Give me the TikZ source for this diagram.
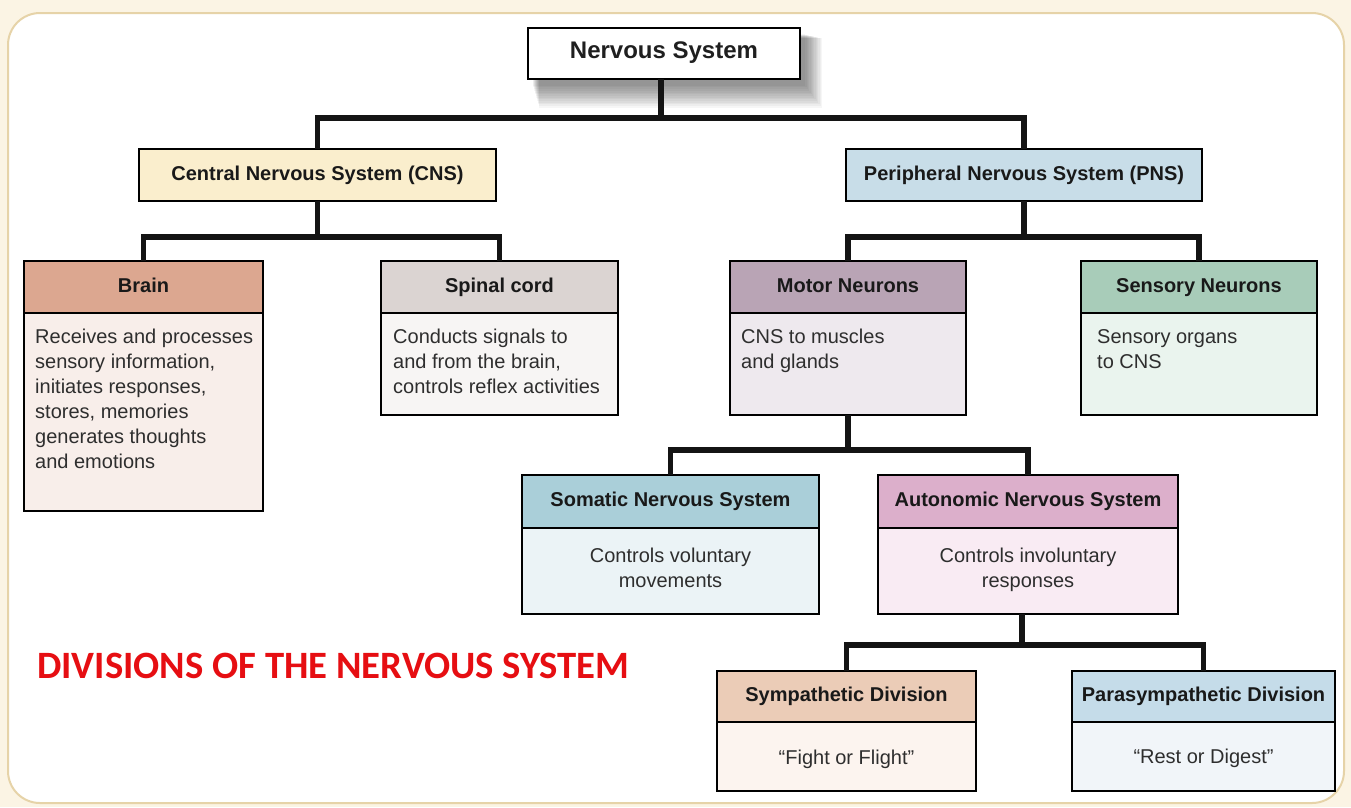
\documentclass[tikz,border=0pt]{standalone}
\usepackage{fontspec}
\setmainfont{Liberation Sans}
\newfontfamily\titlefont{Carlito}
\definecolor{bgc}{HTML}{FBF4E4}
\definecolor{framec}{HTML}{E6D3A8}
\definecolor{cnsc}{HTML}{FAEECD}
\definecolor{pnsc}{HTML}{C8DDE8}
\definecolor{brainH}{HTML}{DCA790}
\definecolor{brainB}{HTML}{F8EEEA}
\definecolor{spinalH}{HTML}{DBD4D2}
\definecolor{spinalB}{HTML}{F7F5F4}
\definecolor{motorH}{HTML}{B9A4B5}
\definecolor{motorB}{HTML}{EEE9EE}
\definecolor{sensH}{HTML}{A8CCB9}
\definecolor{sensB}{HTML}{EAF4EE}
\definecolor{somH}{HTML}{AACFD9}
\definecolor{somB}{HTML}{EBF3F6}
\definecolor{autH}{HTML}{DCAFCB}
\definecolor{autB}{HTML}{F9EBF3}
\definecolor{symH}{HTML}{EBCCB7}
\definecolor{symB}{HTML}{FCF4EF}
\definecolor{parH}{HTML}{C5DCE9}
\definecolor{parB}{HTML}{F1F5F9}
\definecolor{titlered}{HTML}{E60E12}
\tikzset{
  hdr/.style={draw=black, line width=2.5pt, rectangle, inner sep=0pt, outer sep=0pt,
    text height=14.5pt, text depth=4pt,
    font=\bfseries\fontsize{20}{24}\selectfont, text=black!90},
  bdy/.style={draw=black, line width=2.5pt, rectangle, inner sep=0pt, outer sep=0pt},
  txt/.style={inner sep=0pt, font=\fontsize{20}{25}\selectfont, text=black!82},
  conn/.style={line width=5.5pt, draw=black!92}
}
\newcommand\dbox[9]{%
  \node[hdr, fill=#7, minimum width=#4pt, minimum height=#5pt, anchor=north west] (#1h) at (#2,#3) {#9};
  \node[bdy, fill=#8, minimum width=#4pt, minimum height=#6pt, anchor=north west] (#1) at (#1h.south west) {};
}
\begin{document}
\begin{tikzpicture}[x=1pt,y=-1pt]
\useasboundingbox (0,0) rectangle (1351,807);
\fill[bgc] (0,0) rectangle (1351,807);
\draw[draw=framec, line width=2pt, fill=white, rounded corners=32pt] (8,13) rectangle (1344,803);

% shadow of the top box
\foreach \i in {1,...,14}
  \fill[black, opacity=0.035] (532+\i*0.5, 34+\i*0.3) rectangle (804+\i*1.3, 84+\i*1.7);

\node[draw=black, line width=2.5pt, fill=white, outer sep=0pt, minimum width=272pt, minimum height=51pt,
  anchor=north west, font=\bfseries\fontsize{24}{28}\selectfont, text=black!88,
  text height=17pt, text depth=7pt] (ns) at (528,28) {Nervous System};

\node[hdr, fill=cnsc, minimum width=357pt, minimum height=52pt, anchor=north west] (cns) at (139,149) {Central Nervous System (CNS)};
\node[hdr, fill=pnsc, minimum width=356pt, minimum height=52pt, anchor=north west] (pns) at (846,149) {Peripheral Nervous System (PNS)};

\dbox{brain}{24}{261}{239}{52}{198}{brainH}{brainB}{Brain}
\dbox{spinal}{381}{261}{237}{52}{102}{spinalH}{spinalB}{Spinal cord}
\dbox{motor}{730}{261}{236}{52}{102}{motorH}{motorB}{Motor Neurons}
\dbox{sens}{1081}{261}{236}{52}{102}{sensH}{sensB}{Sensory Neurons}
\dbox{som}{522}{475}{297}{53}{86}{somH}{somB}{Somatic Nervous System}
\dbox{aut}{878}{475}{300}{53}{86}{autH}{autB}{Autonomic Nervous System}
\dbox{sym}{717}{671}{259}{51}{69}{symH}{symB}{Sympathetic Division}
\dbox{par}{1072}{671}{263}{51}{69}{parH}{parB}{Parasympathetic Division}

% body texts
\node[txt, align=left, anchor=north west] (brainT) at ([xshift=11pt,yshift=-16pt]brain.north west)
  {Receives and processes\\sensory information,\\initiates responses,\\stores, memories\\generates thoughts\\and emotions};
\node[txt, align=left, anchor=north west] (spinalT) at ([xshift=12pt,yshift=-16pt]spinal.north west)
  {Conducts signals to\\and from the brain,\\controls reflex activities};
\node[txt, align=left, anchor=north west] (motorT) at ([xshift=11pt,yshift=-16pt]motor.north west)
  {CNS to muscles\\and glands};
\node[txt, align=left, anchor=north west] (sensT) at ([xshift=16pt,yshift=-16pt]sens.north west)
  {Sensory organs\\to CNS};
\node[txt, align=center, anchor=north] (somT) at ([yshift=-20pt]som.north)
  {Controls voluntary\\movements};
\node[txt, align=center, anchor=north] (autT) at ([yshift=-20pt]aut.north)
  {Controls involuntary\\responses};
\node[txt] (symT) at ([yshift=-3pt]sym.center) {“Fight or Flight”};
\node[txt] (parT) at ([yshift=-2pt]par.center) {“Rest or Digest”};

% connectors
\coordinate (j1) at (661,118);
\coordinate (j2) at (318,237);
\coordinate (j3) at (1022,237);
\coordinate (j4) at (848,450);
\coordinate (j5) at (1022,645);
\draw[conn] (ns.south -| j1) -- (j1);
\draw[conn] (cns.north) |- (j1) -| (pns.north);
\draw[conn] (cns.south) -- (cns.south |- j2);
\draw[conn] (brainh.north) |- (j2) -| (spinalh.north);
\draw[conn] (pns.south) -- (pns.south |- j3);
\draw[conn] (motorh.north) |- (j3) -| (sensh.north);
\draw[conn] (motor.south) -- (motor.south |- j4);
\draw[conn] (somh.north) |- (j4) -| (auth.north);
\draw[conn] (aut.south -| j5) -- (j5);
\draw[conn] (symh.north) |- (j5) -| (parh.north);

\node[font=\titlefont\bfseries\fontsize{38.7}{44}\selectfont, text=titlered, anchor=west, inner sep=0pt] (title) at (37,666)
  {DIVISIONS OF THE NERVOUS SYSTEM};
\end{tikzpicture}
\end{document}
